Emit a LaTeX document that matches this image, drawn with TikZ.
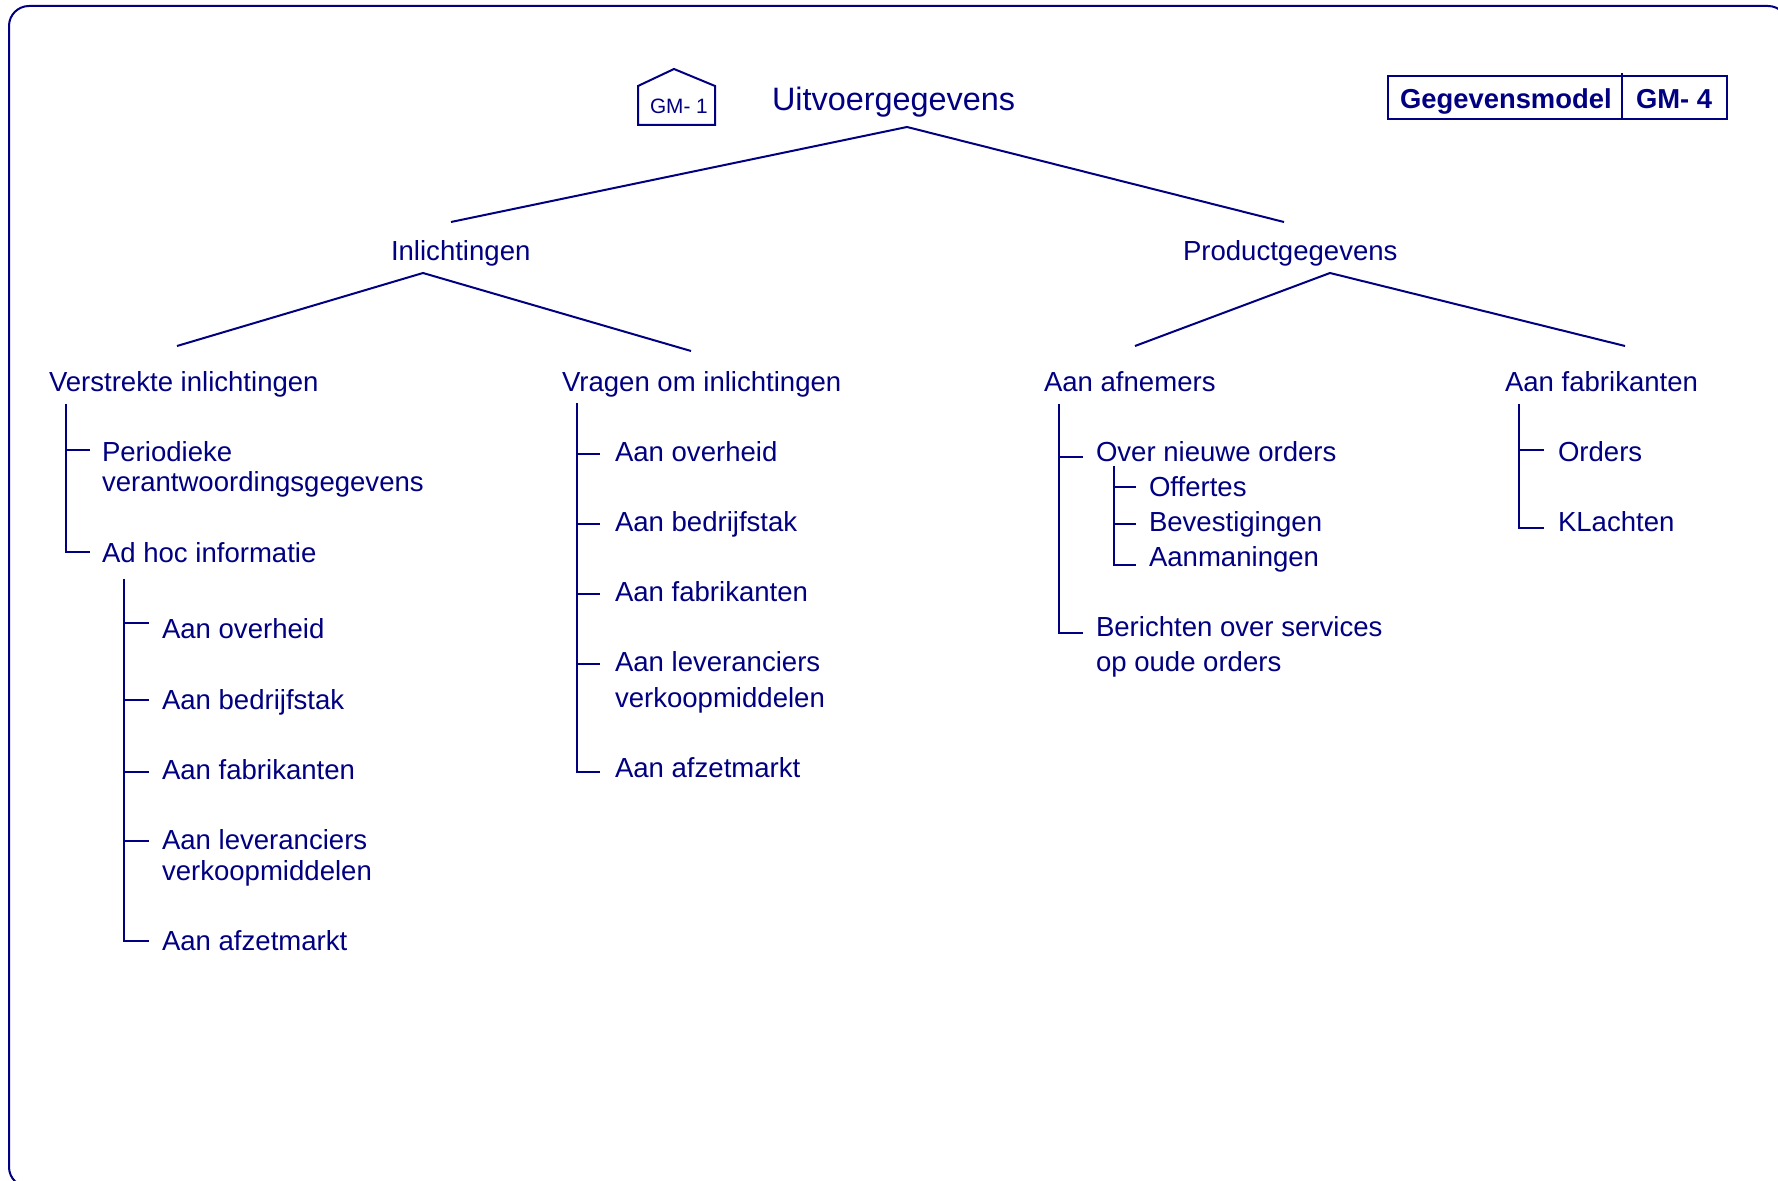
\documentclass[tikz,border=0pt]{standalone}
\usepackage{fontspec}
\setmainfont{Liberation Sans}
\definecolor{modelblue}{HTML}{000080}
\tikzset{
  every node/.style={inner sep=0pt,outer sep=0pt,text=modelblue},
  item/.style={anchor=base west,align=left,font=\fontsize{13.78}{15.3}\selectfont},
  boxlabel/.style={anchor=base west,font=\fontsize{13.7}{15.3}\selectfont\bfseries},
  link/.style={draw=modelblue,line width=1pt}
}
\begin{document}
\begin{tikzpicture}[x=0.5pt,y=0.5pt]
\useasboundingbox (0,0) rectangle (1778,-1181);
% frame
\draw [link,rounded corners=10pt] (9,-6) rectangle (1788,-1187);
% head
\coordinate (houseA) at (638,-125);
\coordinate (houseB) at (638,-86);
\coordinate (houseC) at (674,-69);
\coordinate (houseD) at (715,-86);
\coordinate (houseE) at (715,-125);
\draw [link] (houseA) -- (houseB) -- (houseC) -- (houseD) -- (houseE) -- cycle;
\node (house) [anchor=base west,font=\fontsize{10.4}{12}\selectfont] at (650,-114) {GM- 1};
\node (root) [anchor=base west,font=\fontsize{16.2}{19}\selectfont] at (772,-111) {Uitvoergegevens};
\coordinate (boxA) at (1388,-76);
\coordinate (boxB) at (1727,-119);
\coordinate (boxC) at (1622,-73);
\coordinate (boxD) at (1622,-119);
\draw [link] (boxA) rectangle (boxB);
\draw [link] (boxC) -- (boxD);
\node (modelname) [boxlabel] at (1400,-109) {Gegevensmodel};
\node (modelnr) [boxlabel] at (1636,-109) {GM- 4};
% upper levels
\node (inl) [item] at (391,-261) {Inlichtingen};
\node (prod) [item] at (1183,-261) {Productgegevens};
\node (verstr) [item] at (49,-392) {Verstrekte inlichtingen};
\node (vragen) [item] at (562,-392) {Vragen om inlichtingen};
\node (afn) [item] at (1044,-392) {Aan afnemers};
\node (fab) [item] at (1505,-392) {Aan fabrikanten};
\coordinate (rootTop) at (907,-127);
\coordinate (inlTop) at (451,-222);
\coordinate (prodTop) at (1284,-222);
\coordinate (inlJoin) at (423,-273);
\coordinate (verstrTop) at (177,-346);
\coordinate (vragenTop) at (691,-351);
\coordinate (prodJoin) at (1330,-273);
\coordinate (afnTop) at (1135,-346);
\coordinate (fabTop) at (1625,-346);
\draw [link] (inlTop) -- (rootTop) -- (prodTop);
\draw [link] (verstrTop) -- (inlJoin) -- (vragenTop);
\draw [link] (afnTop) -- (prodJoin) -- (fabTop);
% verstrekte inlichtingen
\node (per) [item] at (102,-492) {Periodieke\\verantwoordingsgegevens};
\node (adhoc) [item] at (102,-563) {Ad hoc informatie};
\node (a1) [item] at (162,-639) {Aan overheid};
\node (a2) [item] at (162,-710) {Aan bedrijfstak};
\node (a3) [item] at (162,-779) {Aan fabrikanten};
\node (a4) [item] at (162,-880) {Aan leveranciers\\verkoopmiddelen};
\node (a5) [item] at (162,-950) {Aan afzetmarkt};
\coordinate (treeA) at (66,-404);
\coordinate (tickA1) at (90,-450);
\coordinate (tickA2) at (90,-552);
\draw [link] (treeA |- tickA1) -- (tickA1);
\draw [link] (treeA) |- (tickA2);
\coordinate (treeB) at (124,-579);
\coordinate (tickB1) at (149,-623);
\coordinate (tickB2) at (149,-700);
\coordinate (tickB3) at (149,-772);
\coordinate (tickB4) at (149,-841);
\coordinate (tickB5) at (149,-941);
\draw [link] (treeB |- tickB1) -- (tickB1);
\draw [link] (treeB |- tickB2) -- (tickB2);
\draw [link] (treeB |- tickB3) -- (tickB3);
\draw [link] (treeB |- tickB4) -- (tickB4);
\draw [link] (treeB) |- (tickB5);
% vragen om inlichtingen
\node (c1) [item] at (615,-462) {Aan overheid};
\node (c2) [item] at (615,-532) {Aan bedrijfstak};
\node (c3) [item] at (615,-602) {Aan fabrikanten};
\node (c4) [item] at (615,-707) {Aan leveranciers\\[2.6pt]verkoopmiddelen};
\node (c5) [item] at (615,-777) {Aan afzetmarkt};
\coordinate (treeC) at (577,-403);
\coordinate (tickC1) at (600,-454);
\coordinate (tickC2) at (600,-524);
\coordinate (tickC3) at (600,-594);
\coordinate (tickC4) at (600,-664);
\coordinate (tickC5) at (600,-772);
\draw [link] (treeC |- tickC1) -- (tickC1);
\draw [link] (treeC |- tickC2) -- (tickC2);
\draw [link] (treeC |- tickC3) -- (tickC3);
\draw [link] (treeC |- tickC4) -- (tickC4);
\draw [link] (treeC) |- (tickC5);
% aan afnemers
\node (over) [item] at (1096,-462) {Over nieuwe orders};
\node (off) [item] at (1149,-497) {Offertes};
\node (bev) [item] at (1149,-532) {Bevestigingen};
\node (aanm) [item] at (1149,-567) {Aanmaningen};
\node (ber) [item] at (1096,-672) {Berichten over services\\[2.6pt]op oude orders};
\coordinate (treeD) at (1059,-404);
\coordinate (tickD1) at (1083,-457);
\coordinate (tickD2) at (1083,-633);
\draw [link] (treeD |- tickD1) -- (tickD1);
\draw [link] (treeD) |- (tickD2);
\coordinate (treeE) at (1114,-466);
\coordinate (tickE1) at (1136,-487);
\coordinate (tickE2) at (1136,-524);
\coordinate (tickE3) at (1136,-565);
\draw [link] (treeE |- tickE1) -- (tickE1);
\draw [link] (treeE |- tickE2) -- (tickE2);
\draw [link] (treeE) |- (tickE3);
% aan fabrikanten
\node (ord) [item] at (1558,-462) {Orders};
\node (kla) [item] at (1558,-532) {KLachten};
\coordinate (treeF) at (1519,-404);
\coordinate (tickF1) at (1544,-450);
\coordinate (tickF2) at (1544,-528);
\draw [link] (treeF |- tickF1) -- (tickF1);
\draw [link] (treeF) |- (tickF2);
\end{tikzpicture}
\end{document}
